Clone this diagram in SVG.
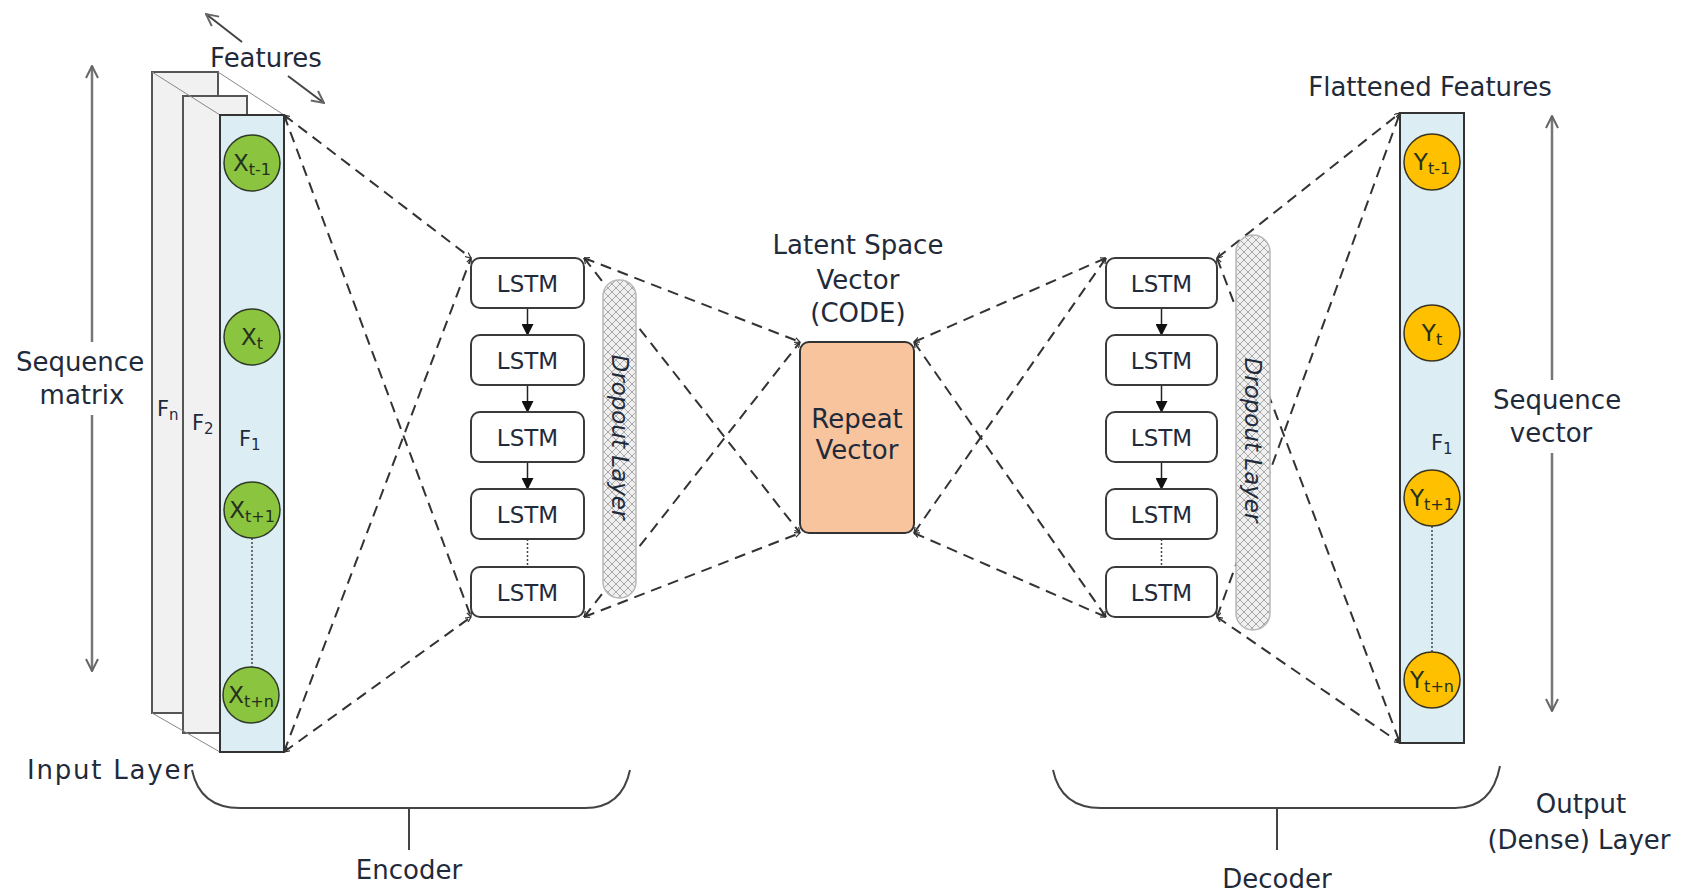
<svg xmlns="http://www.w3.org/2000/svg" width="1689" height="896" viewBox="0 0 1689 896">
<style>
  text { font-family: "DejaVu Sans", "Liberation Sans", sans-serif; fill: #1f2a3a; }
  .lbl { font-size: 26px; text-anchor: middle; }
  .lstm { fill: #ffffff; stroke: #3a3a3a; stroke-width: 2; }
  .lstmt { font-size: 23px; text-anchor: middle; }
  .dash { fill: none; stroke: #333; stroke-width: 2; stroke-dasharray: 11 7; marker-start: url(#tip); marker-end: url(#tip); }
  .panelb { fill: #f1f1f1; stroke: #555; stroke-width: 2; }
  .panelf { fill: #dcedf4; stroke: #333; stroke-width: 2; }
  .persp { stroke: #888; stroke-width: 1; fill: none; }
  .gc { fill: #8bc53f; stroke: #2f3a28; stroke-width: 1.5; }
  .yc { fill: #ffc000; stroke: #3a3320; stroke-width: 1.5; }
  .ct { font-size: 23px; text-anchor: middle; fill: #26301e; }
  .dot { stroke: #444; stroke-width: 1.5; stroke-dasharray: 2 2; fill: none; }
  .axis { stroke: #777; stroke-width: 2.5; fill: none; }
  .brace { stroke: #444; stroke-width: 2; fill: none; }
  .drop { fill: url(#hatch); stroke: #b8b8b8; stroke-width: 1.5; }
  .dropt { font-size: 23px; font-style: italic; text-anchor: middle; }
  .flow { stroke: #222; stroke-width: 1.5; fill: none; marker-end: url(#tri); }
</style>
<defs>
  <marker id="tip" viewBox="0 0 6 6" refX="5.6" refY="3" markerWidth="6" markerHeight="6" markerUnits="userSpaceOnUse" orient="auto-start-reverse">
    <path d="M0,0.4 L5.6,3 L0,5.6" fill="none" stroke="#333" stroke-width="1.2" stroke-dasharray="none"/>
  </marker>
  <marker id="open" viewBox="0 0 14 14" refX="13" refY="7" markerWidth="14" markerHeight="14" markerUnits="userSpaceOnUse" orient="auto-start-reverse">
    <path d="M1,1 L13,7 L1,13" fill="none" stroke="#666" stroke-width="2"/>
  </marker>
  <marker id="tri" viewBox="0 0 12 12" refX="11" refY="6" markerWidth="12" markerHeight="12" markerUnits="userSpaceOnUse" orient="auto">
    <path d="M0,0 L12,6 L0,12 Z" fill="#111"/>
  </marker>
  <pattern id="hatch" width="8" height="8" patternUnits="userSpaceOnUse">
    <rect width="8" height="8" fill="#f0f0f0"/>
    <path d="M0,0 L8,8 M8,0 L0,8" stroke="#a8a8a8" stroke-width="1"/>
  </pattern>
</defs>

<!-- Connectors -->
<g id="connectors">
  <path class="dash" d="M284,115 L471,258"/>
  <path class="dash" d="M284,115 L471,617"/>
  <path class="dash" d="M284,752 L471,258"/>
  <path class="dash" d="M284,752 L471,617"/>
  <path class="dash" d="M584,258 L800,342"/>
  <path class="dash" d="M584,258 L800,533"/>
  <path class="dash" d="M584,617 L800,342"/>
  <path class="dash" d="M584,617 L800,533"/>
  <path class="dash" d="M914,342 L1106,258"/>
  <path class="dash" d="M914,342 L1106,617"/>
  <path class="dash" d="M914,533 L1106,258"/>
  <path class="dash" d="M914,533 L1106,617"/>
  <path class="dash" d="M1217,258 L1400,113"/>
  <path class="dash" d="M1217,258 L1400,743"/>
  <path class="dash" d="M1217,617 L1400,113"/>
  <path class="dash" d="M1217,617 L1400,743"/>
  <!-- encoder internal flow -->
  <path class="flow" d="M527.5,308 L527.5,335"/>
  <path class="flow" d="M527.5,385 L527.5,412"/>
  <path class="flow" d="M527.5,462 L527.5,489"/>
  <path class="dot" d="M527.5,539 L527.5,567"/>
  <!-- decoder internal flow -->
  <path class="flow" d="M1161.5,308 L1161.5,335"/>
  <path class="flow" d="M1161.5,385 L1161.5,412"/>
  <path class="flow" d="M1161.5,462 L1161.5,489"/>
  <path class="dot" d="M1161.5,539 L1161.5,567"/>
</g>

<!-- Input layer -->
<g id="input-layer">
  <rect class="panelb" x="152" y="72" width="66" height="641"/>
  <rect class="panelb" x="183" y="96" width="64" height="637"/>
  <path class="persp" d="M152,72 L220,115 M218,72 L284,115 M152,713 L220,752"/>
  <rect class="panelf" x="220" y="115" width="64" height="637"/>
  <text x="157" y="416" font-size="21">F<tspan font-size="15" dy="4">n</tspan></text>
  <text x="192" y="430" font-size="21">F<tspan font-size="15" dy="4">2</tspan></text>
  <text x="239" y="446" font-size="21">F<tspan font-size="15" dy="4">1</tspan></text>
  <path class="dot" d="M252,538 L252,667"/>
  <circle class="gc" cx="252" cy="163" r="28"/>
  <circle class="gc" cx="252" cy="337" r="28"/>
  <circle class="gc" cx="252" cy="510" r="28"/>
  <circle class="gc" cx="251" cy="695" r="28"/>
  <text class="ct" x="252" y="171">X<tspan font-size="16" dy="4">t-1</tspan></text>
  <text class="ct" x="252" y="345">X<tspan font-size="16" dy="4">t</tspan></text>
  <text class="ct" x="252" y="518">X<tspan font-size="16" dy="4">t+1</tspan></text>
  <text class="ct" x="251" y="703">X<tspan font-size="16" dy="4">t+n</tspan></text>
  <text class="lbl" x="266" y="67">Features</text>
  <path d="M242,42 L206,14" stroke="#444" stroke-width="2" fill="none" marker-end="url(#open)"/>
  <path d="M288,76 L324,103" stroke="#444" stroke-width="2" fill="none" marker-end="url(#open)"/>
  <path class="axis" d="M92,342 L92,66" marker-end="url(#open)"/>
  <path class="axis" d="M92,415 L92,671" marker-end="url(#open)"/>
  <text class="lbl" x="80" y="371">Sequence</text>
  <text class="lbl" x="82" y="404">matrix</text>
  <text class="lbl" x="110" y="779" textLength="166">Input Layer</text>
</g>

<!-- Encoder -->
<g id="encoder">
  <rect class="lstm" x="471" y="258" width="113" height="50" rx="9"/>
  <rect class="lstm" x="471" y="335" width="113" height="50" rx="9"/>
  <rect class="lstm" x="471" y="412" width="113" height="50" rx="9"/>
  <rect class="lstm" x="471" y="489" width="113" height="50" rx="9"/>
  <rect class="lstm" x="471" y="567" width="113" height="50" rx="9"/>
  <text class="lstmt" x="527.5" y="292">LSTM</text>
  <text class="lstmt" x="527.5" y="369">LSTM</text>
  <text class="lstmt" x="527.5" y="446">LSTM</text>
  <text class="lstmt" x="527.5" y="523">LSTM</text>
  <text class="lstmt" x="527.5" y="601">LSTM</text>
</g>
<g id="encoder-dropout">
  <rect class="drop" x="603" y="280" width="33" height="318" rx="16"/>
  <text class="dropt" transform="translate(612,437) rotate(90)">Dropout Layer</text>
</g>

<!-- Latent / Repeat vector -->
<g id="repeat-vector">
  <rect x="800" y="342" width="114" height="191" rx="9" fill="#f8c49d" stroke="#333" stroke-width="2"/>
  <text class="lbl" x="857" y="428" font-size="23">Repeat</text>
  <text class="lbl" x="857" y="459" font-size="23">Vector</text>
  <text class="lbl" x="858" y="254" font-size="27">Latent Space</text>
  <text class="lbl" x="858" y="289" font-size="27">Vector</text>
  <text class="lbl" x="858" y="322" font-size="27">(CODE)</text>
</g>

<!-- Decoder -->
<g id="decoder">
  <rect class="lstm" x="1106" y="258" width="111" height="50" rx="9"/>
  <rect class="lstm" x="1106" y="335" width="111" height="50" rx="9"/>
  <rect class="lstm" x="1106" y="412" width="111" height="50" rx="9"/>
  <rect class="lstm" x="1106" y="489" width="111" height="50" rx="9"/>
  <rect class="lstm" x="1106" y="567" width="111" height="50" rx="9"/>
  <text class="lstmt" x="1161.5" y="292">LSTM</text>
  <text class="lstmt" x="1161.5" y="369">LSTM</text>
  <text class="lstmt" x="1161.5" y="446">LSTM</text>
  <text class="lstmt" x="1161.5" y="523">LSTM</text>
  <text class="lstmt" x="1161.5" y="601">LSTM</text>
</g>
<g id="decoder-dropout">
  <rect class="drop" x="1236" y="235" width="34" height="395" rx="17"/>
  <text class="dropt" transform="translate(1245,440) rotate(90)">Dropout Layer</text>
</g>

<!-- Output layer -->
<g id="output-layer">
  <rect class="panelf" x="1400" y="113" width="64" height="630"/>
  <path class="dot" d="M1432,526 L1432,652"/>
  <circle class="yc" cx="1432" cy="162" r="28"/>
  <circle class="yc" cx="1432" cy="333" r="28"/>
  <circle class="yc" cx="1432" cy="498" r="28"/>
  <circle class="yc" cx="1432" cy="680" r="28"/>
  <text class="ct" x="1432" y="170">Y<tspan font-size="16" dy="4">t-1</tspan></text>
  <text class="ct" x="1432" y="341">Y<tspan font-size="16" dy="4">t</tspan></text>
  <text class="ct" x="1432" y="506">Y<tspan font-size="16" dy="4">t+1</tspan></text>
  <text class="ct" x="1432" y="688">Y<tspan font-size="16" dy="4">t+n</tspan></text>
  <text x="1431" y="450" font-size="21">F<tspan font-size="15" dy="4">1</tspan></text>
  <text class="lbl" x="1430" y="96">Flattened Features</text>
  <path class="axis" d="M1552,380 L1552,116" marker-end="url(#open)"/>
  <path class="axis" d="M1552,453 L1552,711" marker-end="url(#open)"/>
  <text class="lbl" x="1557" y="409">Sequence</text>
  <text class="lbl" x="1551" y="442">vector</text>
  <text class="lbl" x="1581" y="813">Output</text>
  <text class="lbl" x="1579" y="849">(Dense) Layer</text>
</g>

<!-- Braces -->
<g id="encoder-brace">
  <path class="brace" d="M192,770 Q200,808 240,808 L585,808 Q622,808 630,770 M409,808 L409,850"/>
  <text class="lbl" x="409" y="879">Encoder</text>
</g>
<g id="decoder-brace">
  <path class="brace" d="M1053,770 Q1061,808 1101,808 L1455,808 Q1492,808 1500,766 M1277,808 L1277,850"/>
  <text class="lbl" x="1277" y="888">Decoder</text>
</g>
</svg>
